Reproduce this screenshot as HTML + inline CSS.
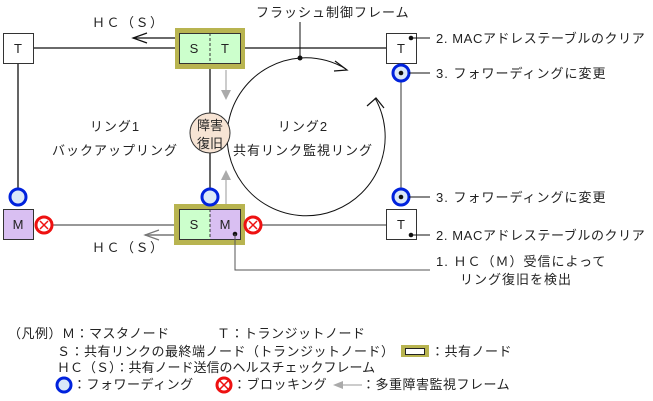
<!DOCTYPE html>
<html><head><meta charset="utf-8"><style>
html,body{margin:0;padding:0;background:#fff;}
svg{display:block;font-family:"Liberation Sans","Noto Sans CJK JP",sans-serif;}
text{font-size:13px;fill:#222;}
</style></head><body>
<svg width="653" height="401" viewBox="0 0 653 401" xmlns="http://www.w3.org/2000/svg">
<line x1="33" y1="48" x2="386" y2="48" stroke="#111" stroke-width="1.3"/>
<line x1="18" y1="63" x2="18" y2="190" stroke="#111" stroke-width="1.3"/>
<line x1="53" y1="225" x2="386" y2="225" stroke="#777" stroke-width="1.5"/>
<line x1="210" y1="63" x2="210" y2="190" stroke="#333" stroke-width="1.5"/>
<line x1="401" y1="77" x2="401" y2="197" stroke="#777" stroke-width="1.5"/>
<line x1="175" y1="38" x2="133" y2="38" stroke="#111" stroke-width="1.2"/>
<polyline points="147,33 133,38 147,43" fill="none" stroke="#111" stroke-width="1.2"/>
<line x1="175" y1="235" x2="145" y2="235" stroke="#777" stroke-width="1.5"/>
<polyline points="159,230 145,235 159,240" fill="none" stroke="#777" stroke-width="1.2"/>
<text x="92" y="27" letter-spacing="1.5">ＨＣ（Ｓ）</text>
<text x="92" y="252" letter-spacing="1.5">ＨＣ（Ｓ）</text>
<path d="M300,58 A79,79 0 0 1 346,69" fill="none" stroke="#111" stroke-width="1"/>
<polyline points="335,61 347,70 334,71" fill="none" stroke="#111" stroke-width="1.2"/>
<path d="M300,58 A79,79 0 1 0 375,98" fill="none" stroke="#111" stroke-width="1"/>
<polyline points="367,106 376,98 384,108" fill="none" stroke="#111" stroke-width="1.2"/>
<line x1="300" y1="22" x2="300" y2="58" stroke="#111" stroke-width="1"/>
<circle cx="300" cy="58" r="2.5" fill="#111"/>
<text x="256" y="17" letter-spacing="1">フラッシュ制御フレーム</text>
<line x1="226" y1="70" x2="226" y2="92" stroke="#bbb" stroke-width="1.5"/>
<polygon points="221,90 231,90 226,100" fill="#aaa"/>
<line x1="226" y1="205" x2="226" y2="178" stroke="#bbb" stroke-width="1.5"/>
<polygon points="221,180 231,180 226,170" fill="#aaa"/>
<rect x="3.5" y="33.5" width="30" height="30" fill="#fff" stroke="#333"/>
<text x="18" y="53" text-anchor="middle">T</text>
<rect x="386.5" y="33.5" width="30" height="30" fill="#fff" stroke="#333"/>
<text x="401" y="53" text-anchor="middle">T</text>
<rect x="386.5" y="209.5" width="30" height="30" fill="#fff" stroke="#333"/>
<text x="401" y="229" text-anchor="middle">T</text>
<rect x="175" y="28" width="70" height="41" fill="#b8b450"/>
<rect x="179.5" y="33.5" width="61" height="30" fill="#ccffcc" stroke="#333"/>
<line x1="210" y1="33" x2="210" y2="63" stroke="#333" stroke-dasharray="3,2"/>
<text x="194" y="53" text-anchor="middle">S</text>
<text x="225" y="53" text-anchor="middle">T</text>
<rect x="174" y="204" width="71" height="41" fill="#b8b450"/>
<rect x="179.5" y="209.5" width="61" height="30" fill="#ccffcc" stroke="#333"/>
<rect x="210" y="210" width="30" height="29" fill="#d9bff2"/>
<rect x="179.5" y="209.5" width="61" height="30" fill="none" stroke="#333"/>
<line x1="210" y1="209" x2="210" y2="239" stroke="#333" stroke-dasharray="3,2"/>
<text x="194" y="229" text-anchor="middle">S</text>
<text x="225" y="229" text-anchor="middle">M</text>
<rect x="3.5" y="209.5" width="30" height="30" fill="#d9bff2" stroke="#333"/>
<text x="18" y="229" text-anchor="middle">M</text>
<circle cx="18" cy="197" r="8" fill="#dbe8f8" stroke="#0022dd" stroke-width="3"/>
<circle cx="210" cy="197" r="8" fill="#dbe8f8" stroke="#0022dd" stroke-width="3"/>
<circle cx="401" cy="73" r="8" fill="#dbe8f8" stroke="#0022dd" stroke-width="3"/>
<circle cx="401" cy="197" r="8" fill="#dbe8f8" stroke="#0022dd" stroke-width="3"/>
<circle cx="44" cy="225" r="8" fill="#fff" stroke="#ee1111" stroke-width="3"/>
<path d="M40,221 L48,229 M48,221 L40,229" stroke="#ee1111" stroke-width="1.5"/>
<circle cx="253" cy="225" r="8" fill="#fff" stroke="#ee1111" stroke-width="3"/>
<path d="M249,221 L257,229 M257,221 L249,229" stroke="#ee1111" stroke-width="1.5"/>
<circle cx="210" cy="133" r="20" fill="#f7e4d4" stroke="#333"/>
<text x="210" y="130" text-anchor="middle">障害</text>
<text x="210" y="148" text-anchor="middle">復旧</text>
<text x="115" y="131" text-anchor="middle" letter-spacing="1">リング1</text>
<text x="115" y="155" text-anchor="middle" letter-spacing="1">バックアップリング</text>
<text x="303" y="131" text-anchor="middle" letter-spacing="1">リング2</text>
<text x="303" y="155" text-anchor="middle" letter-spacing="1">共有リンク監視リング</text>
<g fill="#111">
<circle cx="411" cy="38" r="2.3"/><circle cx="401" cy="73" r="2.3"/><circle cx="401" cy="197" r="2.3"/><circle cx="411" cy="235" r="2.3"/><circle cx="235" cy="234" r="2.3"/>
</g>
<g stroke="#111" stroke-width="1">
<line x1="411" y1="38" x2="430" y2="38"/>
<line x1="409" y1="73" x2="430" y2="73"/>
<line x1="409" y1="197" x2="430" y2="197"/>
<line x1="411" y1="235" x2="430" y2="235"/>
<polyline points="235,234 235,270 430,270" fill="none" stroke="#555"/>
</g>
<text x="436" y="43" letter-spacing="0.6">2.  MACアドレステーブルのクリア</text>
<text x="436" y="78" letter-spacing="1">3.  フォワーディングに変更</text>
<text x="436" y="202" letter-spacing="1">3.  フォワーディングに変更</text>
<text x="436" y="240" letter-spacing="0.6">2.  MACアドレステーブルのクリア</text>
<text x="436" y="266" letter-spacing="1">1.  ＨＣ（Ｍ）受信によって</text>
<text x="460" y="284" letter-spacing="1">リング復旧を検出</text>
<text x="8" y="338" letter-spacing="0.5">（凡例）Ｍ：マスタノード</text>
<text x="217" y="338" letter-spacing="0.5">Ｔ：トランジットノード</text>
<text x="57" y="356" letter-spacing="0.5">Ｓ：共有リンクの最終端ノード（トランジットノード）</text>
<rect x="401" y="345" width="28" height="12" fill="#b8b450"/>
<rect x="405.5" y="348.5" width="19" height="6" fill="#fff" stroke="#222"/>
<text x="431" y="356" letter-spacing="0.5">：共有ノード</text>
<text x="57" y="372">ＨＣ（Ｓ）：共有ノード送信のヘルスチェックフレーム</text>
<circle cx="64" cy="385" r="7" fill="#dbe8f8" stroke="#0022dd" stroke-width="3"/>
<text x="73" y="389" letter-spacing="0.5">：フォワーディング</text>
<circle cx="224" cy="385" r="7" fill="#fff" stroke="#ee1111" stroke-width="3"/>
<path d="M220,381 L228,389 M228,381 L220,389" stroke="#ee1111" stroke-width="1.5"/>
<text x="233" y="389" letter-spacing="0.5">：ブロッキング</text>
<line x1="340" y1="385" x2="362" y2="385" stroke="#bbb" stroke-width="1.5"/>
<polygon points="333,385 343,381 343,389" fill="#aaa"/>
<text x="362" y="389" letter-spacing="0.5">：多重障害監視フレーム</text>
</svg>
</body></html>
